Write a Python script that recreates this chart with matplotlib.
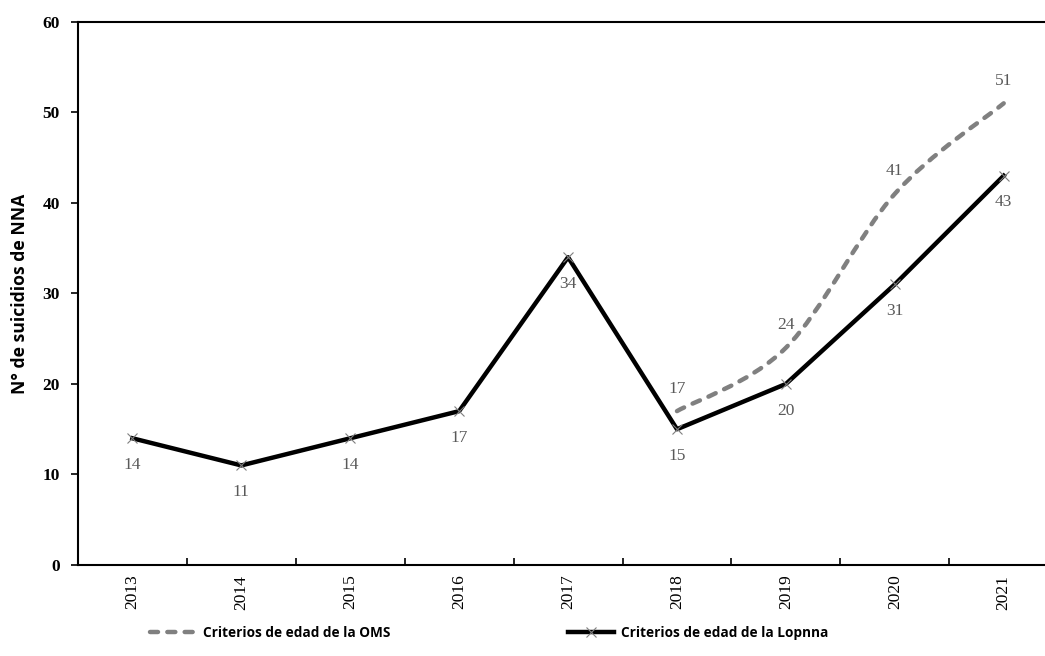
import numpy as np
import matplotlib.pyplot as plt
from matplotlib.path import Path
from matplotlib.patches import PathPatch
from matplotlib.lines import Line2D

years = ['2013', '2014', '2015', '2016', '2017', '2018', '2019', '2020', '2021']
lopnna = [14, 11, 14, 17, 34, 15, 20, 31, 43]
oms_years = ['2018', '2019', '2020', '2021']
oms = [17, 24, 41, 51]

serif = 'Liberation Serif'
sans = 'Open Sans'
label_gray = '#595959'
dash = (0, (1.8, 2.1))


def smooth_path(x, y):
    # Catmull-Rom style bezier through the points (like a spreadsheet "smoothed line")
    x = np.asarray(x, float)
    y = np.asarray(y, float)
    verts = [(x[0], y[0])]
    codes = [Path.MOVETO]
    n = len(x)
    for i in range(n - 1):
        p0 = (x[i - 1], y[i - 1]) if i > 0 else (x[i], y[i])
        p1 = (x[i], y[i])
        p2 = (x[i + 1], y[i + 1])
        p3 = (x[i + 2], y[i + 2]) if i + 2 < n else (x[i + 1], y[i + 1])
        c1 = (p1[0] + (p2[0] - p0[0]) / 6, p1[1] + (p2[1] - p0[1]) / 6)
        c2 = (p2[0] - (p3[0] - p1[0]) / 6, p2[1] - (p3[1] - p1[1]) / 6)
        verts += [c1, c2, p2]
        codes += [Path.CURVE4] * 3
    return Path(verts, codes)


fig = plt.figure(figsize=(10.45, 6.56), dpi=100)
ax = fig.add_axes([0.0746, 0.1387, 0.938, 0.828])

x = np.arange(len(years))
xo = np.array([years.index(y) for y in oms_years])

# OMS series, smoothed dashed gray line
ax.add_patch(PathPatch(smooth_path(xo, oms), facecolor='none', edgecolor='#808080',
                       lw=3.2, linestyle=dash, capstyle='round', zorder=2))

# Lopnna series, solid black with gray x markers
ax.plot(x, lopnna, color='black', lw=3.2, marker='x', markersize=7,
        markeredgecolor='#7f7f7f', markeredgewidth=0.8, zorder=3)

for xi, v in zip(x, lopnna):
    ax.annotate(str(v), (xi, v), xytext=(0, -13.5), textcoords='offset points',
                ha='center', va='top', fontsize=12.5, family=serif, color=label_gray)
for xi, v in zip(xo, oms):
    ax.annotate(str(v), (xi, v), xytext=(0, 10.5), textcoords='offset points',
                ha='center', va='bottom', fontsize=12.5, family=serif, color=label_gray)

ax.set_xlim(-0.5, len(years) - 0.5)
ax.set_ylim(0, 60)
ax.set_yticks(range(0, 61, 10))
ax.set_yticklabels([str(v) for v in range(0, 61, 10)], family=serif,
                   fontweight='bold', fontsize=12.5)
ax.set_xticks(x)
ax.set_xticklabels(years, rotation=90, family=serif, fontsize=12.5)
ax.set_xticks(np.arange(0.5, len(years) - 0.5), minor=True)
ax.tick_params(axis='x', which='major', length=0, pad=7)
ax.tick_params(axis='x', which='minor', direction='in', length=5, width=1.2)
ax.tick_params(axis='y', direction='out', length=5, width=1.2, pad=8)

for s in ax.spines.values():
    s.set_linewidth(1.5)

ax.set_ylabel('N° de suicidios de NNA', family=sans, fontweight='bold',
              fontsize=12.7, labelpad=10)

handles = [
    Line2D([], [], color='#808080', lw=3.2, linestyle=dash,
           dash_capstyle='round'),
    Line2D([], [], color='black', lw=3.2, marker='x', markersize=7,
           markeredgecolor='#7f7f7f', markeredgewidth=0.8),
]
fig.legend(handles, ['Criterios de edad de la OMS', 'Criterios de edad de la Lopnna'],
           loc='center', bbox_to_anchor=(0.468, 0.035), ncol=2, frameon=False,
           prop={'family': sans, 'weight': 'bold', 'size': 9.8},
           handlelength=3.4, columnspacing=13, handletextpad=0.5)

fig.savefig('out.png', dpi=100)
